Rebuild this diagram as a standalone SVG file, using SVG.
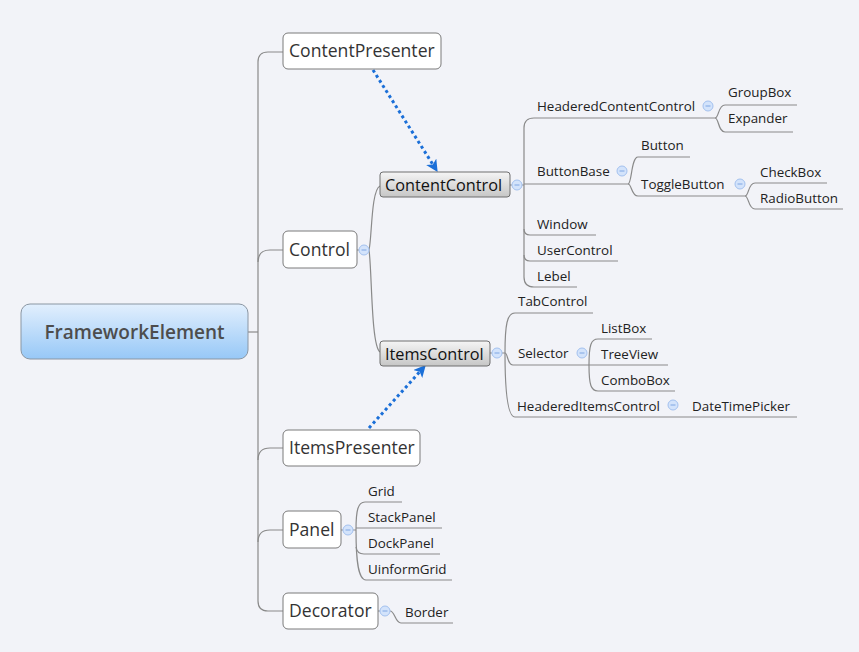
<svg xmlns="http://www.w3.org/2000/svg" width="859" height="652" viewBox="0 0 859 652">
<defs>
<linearGradient id="gRoot" x1="0" y1="0" x2="0" y2="1"><stop offset="0" stop-color="#e2effd"/><stop offset="1" stop-color="#97c8f7"/></linearGradient>
<linearGradient id="gGray" x1="0" y1="0" x2="0" y2="1"><stop offset="0" stop-color="#f5f5f5"/><stop offset="1" stop-color="#c6c6c6"/></linearGradient>
<marker id="arr" viewBox="0 0 10 10" refX="9" refY="5" markerUnits="userSpaceOnUse" markerWidth="12" markerHeight="12" orient="auto"><path d="M0,0 L10,5 L0,10 L2.5,5 z" fill="#1b6fd8"/></marker>
<g id="col"><circle r="5" fill="#d3e3fb" stroke="#a3c1ef" stroke-width="1"/><line x1="-2.5" y1="0" x2="2.5" y2="0" stroke="#7fa6e3" stroke-width="1"/></g>
</defs>
<style>
.ln{fill:none;stroke:#8a8a8a;stroke-width:1.2}
.box{fill:#ffffff;stroke:#7a7a7a;stroke-width:1}
.gbox{fill:url(#gGray);stroke:#6e6e6e;stroke-width:1}
.bt{font-family:"Open Sans","Noto Sans",sans-serif;font-size:17.6px;fill:#333}
.gt{font-family:"Open Sans","Noto Sans",sans-serif;font-size:16.3px;fill:#111}
.lt{font-family:"Open Sans","Noto Sans",sans-serif;font-size:13.4px;fill:#222}
.dot{fill:none;stroke:#1b6fd8;stroke-width:3;stroke-dasharray:3 3}
</style>
<rect width="859" height="652" fill="#f2f3f8"/>

<g id="connectors">
<path class="ln" d="M248,332 L258,332"/>
<path class="ln" d="M283,52 L268,52 Q258,52 258,62 L258,601 Q258,611 268,611 L283,611"/>
<path class="ln" d="M258,262 Q258,250 270,250 L283,250"/>
<path class="ln" d="M258,460 Q258,448 270,448 L283,448"/>
<path class="ln" d="M258,542 Q258,530 270,530 L283,530"/>
<path class="ln" d="M357,250 L359,250"/>
<path class="ln" d="M369,250 C372,238 371,190 380,186"/>
<path class="ln" d="M369,250 C372,270 371,346 380,352"/>
<path class="ln" d="M510,185 L512,185 M522,185 L524,185"/>
<path class="ln" d="M715,118 L534,118 Q524,118 524,128 L524,277 Q524,287 534,287 L577,287"/>
<path class="ln" d="M524,184 L628,184"/>
<path class="ln" d="M524,229 Q524,235 530,235 L596,235"/>
<path class="ln" d="M524,255 Q524,261 530,261 L618,261"/>
<path class="ln" d="M715,118 C719,118 718,105 725,105 L797,105"/>
<path class="ln" d="M715,118 C719,118 718,132 725,132 L793,132"/>
<path class="ln" d="M628,184 C632,184 631,157 638,157 L690,157"/>
<path class="ln" d="M628,184 C632,184 631,196 638,196 L745,196"/>
<path class="ln" d="M745,196 C749,196 748,183 755,183 L827,183"/>
<path class="ln" d="M745,196 C749,196 748,209 755,209 L843,209"/>
<path class="ln" d="M490,353 L492,353 M502,353 L505,353"/>
<path class="ln" d="M593,313 L515,313 C507,313 505,325 505,353 C505,385 507,417 515,417 L797,417"/>
<path class="ln" d="M505,353 C508,353 507,365 513,365 L589,365"/>
<path class="ln" d="M652,339 L598,339 C591,339 589,345 589,365 C589,385 591,391 598,391 L675,391"/>
<path class="ln" d="M589,365 L668,365"/>
<path class="ln" d="M341,530 L343,530 M353,530 L356,530"/>
<path class="ln" d="M402,502 L365,502 C358,502 356,510 356,530 C356,560 358,580 366,580 L452,580"/>
<path class="ln" d="M356,528 L442,528"/>
<path class="ln" d="M356,547 Q357,554 364,554 L440,554"/>
<path class="ln" d="M378,611 L380,611 M390,611 C395,611 395,623 401,623 L453,623"/>
<path class="dot" d="M373,70 L437,171" marker-end="url(#arr)"/>
<path class="dot" d="M369,428 L425,366" marker-end="url(#arr)"/>
</g>

<g id="FrameworkElement"><rect x="21" y="304" width="227" height="55" rx="9" fill="url(#gRoot)" stroke="#8a96a3" stroke-width="1"/><text x="134.5" y="339" text-anchor="middle" style="font-family:'Open Sans','Noto Sans',sans-serif;font-size:19px;font-weight:600;fill:#4d4d4d">FrameworkElement</text></g>

<g id="ContentPresenter"><rect class="box" x="283" y="33" width="158" height="36" rx="5"/><text class="bt" x="289" y="57">ContentPresenter</text></g>
<g id="Control"><rect class="box" x="283" y="231" width="74" height="37" rx="5"/><text class="bt" x="289" y="256">Control</text><use href="#col" x="364" y="250"/></g>
<g id="ItemsPresenter"><rect class="box" x="283" y="430" width="137" height="36" rx="5"/><text class="bt" x="289" y="454">ItemsPresenter</text></g>
<g id="Panel"><rect class="box" x="283" y="511" width="58" height="37" rx="5"/><text class="bt" x="289" y="536">Panel</text><use href="#col" x="348" y="530"/></g>
<g id="Decorator"><rect class="box" x="283" y="593" width="95" height="36" rx="5"/><text class="bt" x="289" y="617">Decorator</text><use href="#col" x="385" y="611"/></g>

<g id="ContentControl"><rect class="gbox" x="380" y="172" width="130" height="25" rx="3"/><text class="gt" x="385" y="190.5">ContentControl</text><use href="#col" x="517" y="185"/></g>
<g id="ItemsControl"><rect class="gbox" x="380" y="341" width="110" height="25" rx="3"/><text class="gt" x="385" y="359.5">ItemsControl</text><use href="#col" x="497" y="353"/></g>

<g id="HeaderedContentControl"><text class="lt" x="537" y="111">HeaderedContentControl</text><use href="#col" x="708" y="106"/></g>
<g id="GroupBox"><text class="lt" x="728" y="97">GroupBox</text></g>
<g id="Expander"><text class="lt" x="728" y="123">Expander</text></g>
<g id="ButtonBase"><text class="lt" x="537" y="176">ButtonBase</text><use href="#col" x="622" y="171"/></g>
<g id="Button"><text class="lt" x="641" y="150">Button</text></g>
<g id="ToggleButton"><text class="lt" x="641" y="189">ToggleButton</text><use href="#col" x="740" y="184"/></g>
<g id="CheckBox"><text class="lt" x="760" y="177">CheckBox</text></g>
<g id="RadioButton"><text class="lt" x="760" y="203">RadioButton</text></g>
<g id="Window"><text class="lt" x="537" y="229">Window</text></g>
<g id="UserControl"><text class="lt" x="537" y="255">UserControl</text></g>
<g id="Lebel"><text class="lt" x="537" y="281">Lebel</text></g>
<g id="TabControl"><text class="lt" x="518" y="306">TabControl</text></g>
<g id="Selector"><text class="lt" x="518" y="358">Selector</text><use href="#col" x="582" y="353"/></g>
<g id="ListBox"><text class="lt" x="601" y="333">ListBox</text></g>
<g id="TreeView"><text class="lt" x="601" y="359">TreeView</text></g>
<g id="ComboBox"><text class="lt" x="601" y="385">ComboBox</text></g>
<g id="HeaderedItemsControl"><text class="lt" x="517" y="411">HeaderedItemsControl</text><use href="#col" x="673" y="405"/></g>
<g id="DateTimePicker"><text class="lt" x="692" y="411">DateTimePicker</text></g>
<g id="Grid"><text class="lt" x="368" y="496">Grid</text></g>
<g id="StackPanel"><text class="lt" x="368" y="522">StackPanel</text></g>
<g id="DockPanel"><text class="lt" x="368" y="548">DockPanel</text></g>
<g id="UinformGrid"><text class="lt" x="368" y="574">UinformGrid</text></g>
<g id="Border"><text class="lt" x="405" y="617">Border</text></g>
</svg>
